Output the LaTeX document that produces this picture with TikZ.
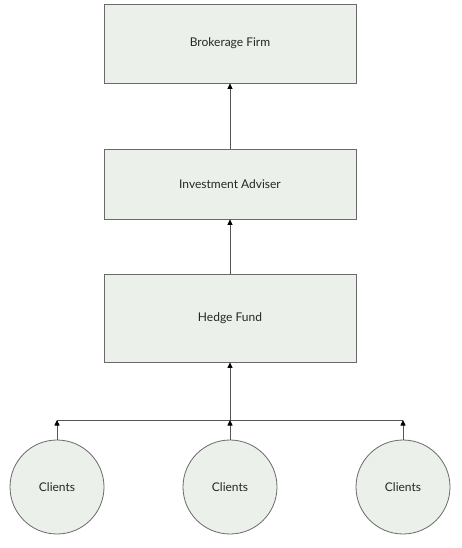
\documentclass[tikz,border=0pt]{standalone}
\usepackage{fontspec}
\setmainfont{Lato}
\usetikzlibrary{arrows.meta}
\definecolor{boxfill}{HTML}{EBF0EB}
\definecolor{boxline}{HTML}{6A6A6A}
\tikzset{
  x=1pt, y=-1pt,
  firm/.style={draw=boxline, fill=boxfill, line width=0.8pt, minimum width=252pt, inner sep=0pt, font=\fontsize{12}{14}\selectfont, text=black!85},
  client/.style={draw=boxline, fill=boxfill, line width=0.8pt, circle, minimum size=94pt, inner sep=0pt, font=\fontsize{12}{14}\selectfont, text=black!85},
  conn/.style={draw=boxline!80!black, line width=0.8pt},
  arr/.style={conn, -{Triangle[width=5pt,length=5.5pt,color=black]}}
}
\begin{document}
\begin{tikzpicture}
\useasboundingbox (0,0) rectangle (462,548);
\node[firm, minimum height=79pt] (bf) at (230,43.5) {Brokerage Firm};
\node[firm, minimum height=70pt] (ia) at (230,184) {Investment Adviser};
\node[firm, minimum height=88pt] (hf) at (230,318) {Hedge Fund};
\node[client] (c1) at (57,487) {Clients};
\node[client] (c2) at (230,487) {Clients};
\node[client] (c3) at (403,487) {Clients};
\coordinate (j1) at (57,420);
\coordinate (j2) at (230,420);
\coordinate (j3) at (403,420);
\draw[conn] (j1) -- (j3);
\draw[arr] (c1.north) -- (j1);
\draw[arr] (c2.north) -- (j2);
\draw[arr] (c3.north) -- (j3);
\draw[arr] (j2) -- (hf.south);
\draw[arr] (hf.north) -- (ia.south);
\draw[arr] (ia.north) -- (bf.south);
\end{tikzpicture}
\end{document}
